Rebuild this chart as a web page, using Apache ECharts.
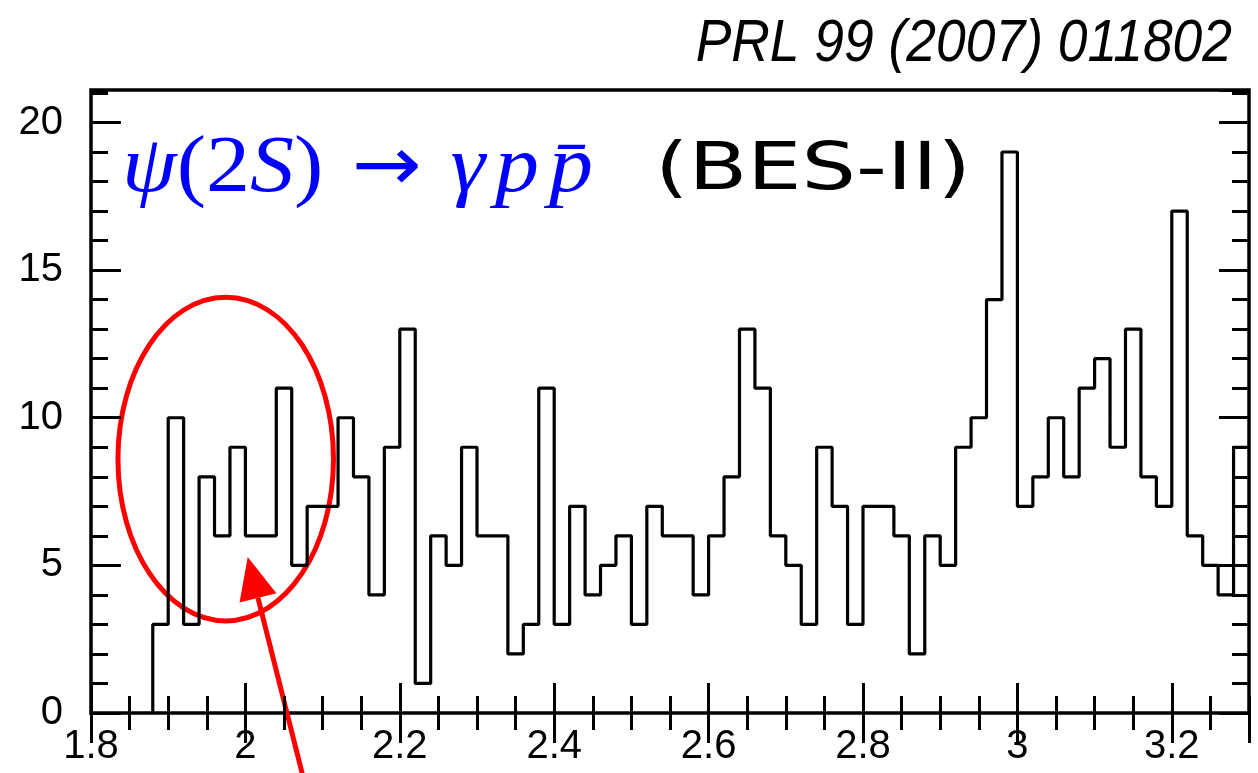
<!DOCTYPE html>
<html>
<head>
<meta charset="utf-8">
<title>psi(2S) to gamma p pbar (BES-II)</title>
<script src="https://cdn.jsdelivr.net/npm/echarts@6/dist/echarts.min.js"></script>
<style>
  html, body { margin: 0; padding: 0; background: #fff; }
  #chart { width: 1258px; height: 773px; }
</style>
</head>
<body>
<div id="chart"></div>
<script>
// p pbar invariant mass, 20 MeV bins starting at 1.88 GeV
const binStart = 1.88;
const binWidth = 0.02;
const counts = [
  3, 10, 3, 8, 6, 9, 6, 6, 11, 5, 7, 7, 10, 8, 4, 9, 13, 1, 6, 5,
  9, 6, 6, 2, 3, 11, 3, 7, 4, 5, 6, 3, 7, 6, 6, 4, 6, 8, 13, 11,
  6, 5, 3, 9, 7, 3, 7, 7, 6, 2, 6, 5, 9, 10, 14, 19, 7, 8, 10, 8,
  11, 12, 9, 13, 8, 7, 17, 6, 5, 4, 9
];
const xRange = [1.8, 3.3];
const yRange = [0, 21.1];

// annotation anchors, in data units
const ringCenter = [1.9745, 8.6];
const ringRadius = [0.1396, 5.48];
const arrowTip = [2.003, 5.28];
const arrowTail = [2.076, -2.3];

const frame = { left: 91, right: 9, top: 90, bottom: 60 };

// outline points of the histogram (step drawn by the line series)
const steps = [[binStart, 0]];
counts.forEach((c, i) => steps.push([+(binStart + i * binWidth).toFixed(2), c]));
steps.push([+(binStart + counts.length * binWidth).toFixed(2), counts[counts.length - 1]]);

const labelFont = { color: '#000', fontSize: 40, fontFamily: '"Liberation Sans", Arial, sans-serif' };

function xAxisDef(grid, pos, interval, tickLen, withLabel) {
  return {
    type: 'value', gridIndex: grid, position: pos,
    min: xRange[0], max: xRange[1], interval: interval,
    axisLine: { show: false },
    axisTick: { show: true, inside: true, length: tickLen, lineStyle: { color: '#000', width: 3 } },
    axisLabel: withLabel ? Object.assign({ margin: 14, showMaxLabel: false }, labelFont) : { show: false },
    splitLine: { show: false }
  };
}
function yAxisDef(grid, pos, interval, tickLen, withLabel) {
  return {
    type: 'value', gridIndex: grid, position: pos,
    min: yRange[0], max: yRange[1], interval: interval,
    axisLine: { show: false },
    axisTick: { show: true, inside: true, length: tickLen, lineStyle: { color: '#000', width: 3 } },
    axisLabel: withLabel ? Object.assign({ margin: 28, showMaxLabel: false }, labelFont) : { show: false },
    splitLine: { show: false }
  };
}

const chart = echarts.init(document.getElementById('chart'), null, { renderer: 'canvas' });

chart.setOption({
  animation: false,
  backgroundColor: '#fff',
  grid: [
    Object.assign({ show: true, borderColor: '#000', borderWidth: 3.5, backgroundColor: 'transparent' }, frame),
    Object.assign({ show: false }, frame)
  ],
  xAxis: [
    xAxisDef(0, 'bottom', 0.2, 30, true),
    xAxisDef(0, 'top', 0.2, 30, false),
    xAxisDef(1, 'bottom', 0.05, 17, false),
    xAxisDef(1, 'top', 0.05, 17, false)
  ],
  yAxis: [
    yAxisDef(0, 'left', 5, 30, true),
    yAxisDef(0, 'right', 5, 30, false),
    yAxisDef(1, 'left', 1, 17, false),
    yAxisDef(1, 'right', 1, 17, false)
  ],
  series: [
    {
      type: 'line',
      xAxisIndex: 0,
      yAxisIndex: 0,
      step: 'end',
      data: steps,
      showSymbol: false,
      lineStyle: { color: '#000', width: 3.2 },
      silent: true
    }
  ]
});

// annotations placed through the grid's coordinate system
const px = (p) => chart.convertToPixel({ gridIndex: 0 }, p);
const c = px(ringCenter);
const edge = px([ringCenter[0] + ringRadius[0], ringCenter[1] + ringRadius[1]]);
const tip = px(arrowTip);
const tail = px(arrowTail);
const dx = tip[0] - tail[0], dy = tip[1] - tail[1];
const len = Math.sqrt(dx * dx + dy * dy);
const ux = dx / len, uy = dy / len;
const headLen = 42, headHalf = 19;
const base = [tip[0] - ux * headLen, tip[1] - uy * headLen];

const serif = '"Liberation Serif", "Times New Roman", serif';
const blue = '#0000ff';

chart.setOption({
  graphic: [
    {
      type: 'text',
      x: 1232, y: 44, scaleX: 0.89,
      style: {
        x: 0, y: 0, text: 'PRL 99 (2007) 011802',
        fill: '#000', align: 'right', verticalAlign: 'middle',
        font: 'italic 60px "Liberation Sans", Arial, sans-serif'
      }
    },
    {
      type: 'text',
      x: 122, y: 170, scaleX: 1.1,
      style: {
        x: 0, y: 0, verticalAlign: 'middle',
        text: '{i|ψ}{r|(2}{i|S}{r|)}{a|→}{g|γ}{g|p}{i|p\u0304}',
        rich: {
          i: { fill: blue, fontSize: 80, fontStyle: 'italic', fontFamily: serif },
          g: { fill: blue, fontSize: 80, fontStyle: 'italic', fontFamily: serif, padding: [0, 9, 0, 0] },
          r: { fill: blue, fontSize: 80, fontFamily: serif },
          a: { fill: blue, fontSize: 76, fontFamily: '"DejaVu Sans", sans-serif', padding: [0, 26, 0, 26] }
        }
      }
    },
    {
      type: 'text',
      x: 655, y: 172, scaleX: 1.3,
      style: {
        x: 0, y: 0, verticalAlign: 'middle', text: '(BES-II)',
        fill: '#000', font: '66px "DejaVu Sans", sans-serif'
      }
    },
    {
      type: 'ellipse',
      shape: { cx: c[0], cy: c[1], rx: edge[0] - c[0], ry: c[1] - edge[1] },
      style: { fill: 'none', stroke: '#ff0000', lineWidth: 5 }
    },
    {
      type: 'line',
      shape: { x1: tail[0], y1: tail[1], x2: base[0], y2: base[1] },
      style: { stroke: '#ff0000', lineWidth: 5 }
    },
    {
      type: 'polygon',
      shape: {
        points: [
          tip,
          [base[0] - uy * headHalf, base[1] + ux * headHalf],
          [base[0] + uy * headHalf, base[1] - ux * headHalf]
        ]
      },
      style: { fill: '#ff0000' }
    }
  ]
});
</script>
</body>
</html>
